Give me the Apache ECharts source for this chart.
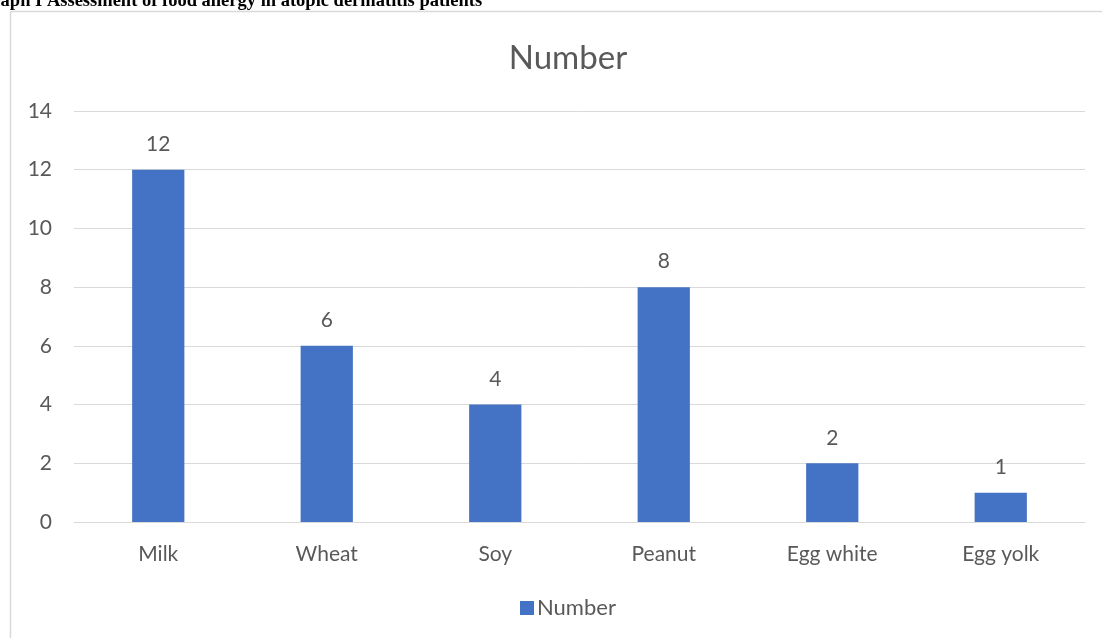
<!DOCTYPE html>
<html>
<head>
<meta charset="utf-8">
<script src="https://cdn.jsdelivr.net/npm/echarts@6/dist/echarts.min.js"></script>
<style>
html,body{margin:0;padding:0;background:#fff;}
#chart{width:1102px;height:638px;}
</style>
</head>
<body>
<div id="chart"></div>
<script>
const categories = ['Milk', 'Wheat', 'Soy', 'Peanut', 'Egg white', 'Egg yolk'];
const numberValues = [12, 6, 4, 8, 2, 1];
const seriesName = 'Number';
const pageCaption = 'Graph I Assessment of food allergy in atopic dermatitis patients';

const chart = echarts.init(document.getElementById('chart'));
const font = 'Lato';
const textColor = '#595959';
chart.setOption({
  animation: false,
  title: {
    text: seriesName,
    left: 563,
    textAlign: 'center',
    top: 37,
    textStyle: { fontFamily: font, fontSize: 33, fontWeight: 'normal', color: textColor }
  },
  legend: {
    data: [seriesName],
    left: 515,
    top: 592,
    itemWidth: 14,
    itemHeight: 14,
    itemGap: 6,
    icon: 'rect',
    textStyle: { fontFamily: font, fontSize: 22, color: textColor, padding: [0, 0, 0, -2] }
  },
  grid: { left: 74, right: 17, top: 111, bottom: 116, containLabel: false },
  xAxis: {
    type: 'category',
    data: categories,
    axisLine: { show: true, lineStyle: { color: '#d9d9d9', width: 1 } },
    axisTick: { show: false },
    axisLabel: { fontFamily: font, fontSize: 21, color: textColor, margin: 22 }
  },
  yAxis: {
    type: 'value',
    min: 0,
    max: 14,
    interval: 2,
    axisLine: { show: false },
    axisTick: { show: false },
    splitLine: { lineStyle: { color: '#d9d9d9', width: 1 } },
    axisLabel: { fontFamily: font, fontSize: 21, color: textColor, margin: 22 }
  },
  series: [{
    name: seriesName,
    type: 'bar',
    data: numberValues,
    barWidth: '31%',
    itemStyle: { color: '#4472C4' },
    label: { show: true, position: 'top', distance: 15, fontFamily: font, fontSize: 21, color: textColor }
  }],
  graphic: [
    {
      type: 'line',
      shape: { x1: 10.5, y1: 11.5, x2: 1102, y2: 11.5 },
      style: { stroke: '#d9d9d9', lineWidth: 1.5 },
      z: 10
    },
    {
      type: 'line',
      shape: { x1: 10.5, y1: 11.5, x2: 10.5, y2: 638 },
      style: { stroke: '#d9d9d9', lineWidth: 1.5 },
      z: 10
    },
    {
      type: 'text',
      left: -22,
      top: -8,
      style: {
        text: pageCaption,
        fontSize: 18.5,
        fontWeight: 'bold',
        fontFamily: 'Liberation Serif',
        fill: '#000'
      },
      z: 20
    }
  ]
});
</script>
</body>
</html>
